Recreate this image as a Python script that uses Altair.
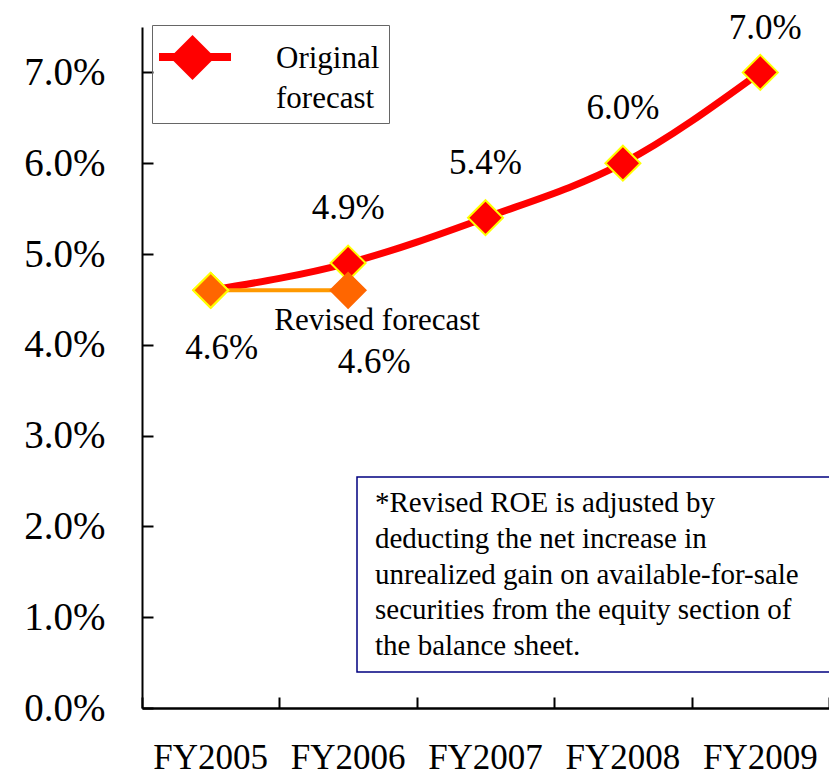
import altair as alt
import pandas as pd

# ROE forecast values (percent)
YEARS = ["FY2005", "FY2006", "FY2007", "FY2008", "FY2009"]
ORIGINAL_ROE = [4.6, 4.9, 5.4, 6.0, 7.0]
REVISED_YEARS = ["FY2005", "FY2006"]
REVISED_ROE = [4.6, 4.6]
Y_TICKS = [0, 1, 2, 3, 4, 5, 6, 7]

ORIGINAL_NAME = "Original forecast"
REVISED_NAME = "Revised forecast"
LEGEND_TITLE = ["Original", "forecast"]
NOTE_LINES = [
    "*Revised ROE is adjusted by",
    "deducting the net increase in",
    "unrealized gain on available-for-sale",
    "securities from the equity section of",
    "the balance sheet.",
]

FONT = "Liberation Serif"
RED = "#FF0000"
YELLOW = "#FFFF00"
ORANGE = "#FF6600"
ORANGE_LINE = "#FF9900"

W, H = 687, 681

rows = [{"year": y, "roe": v, "series": ORIGINAL_NAME, "key": ORIGINAL_NAME}
        for y, v in zip(YEARS, ORIGINAL_ROE)]
rows += [{"year": y, "roe": v, "series": REVISED_NAME, "key": REVISED_NAME}
         for y, v in zip(REVISED_YEARS, REVISED_ROE)]
df = pd.DataFrame(rows)

x_scale = alt.Scale(type="band", domain=YEARS, paddingInner=0, paddingOuter=0)
y_scale = alt.Scale(domain=[0, 7.5], nice=False, zero=True)

main_x_axis = alt.Axis(orient="bottom", title=None, ticks=False, grid=False,
                       domainColor="black", domainWidth=2.5, labelAngle=0,
                       labelFont=FONT, labelFontSize=35, labelColor="black",
                       labelPadding=32)
main_y_axis = alt.Axis(orient="left", title=None, ticks=False, grid=False,
                       values=Y_TICKS, domainColor="black", domainWidth=2,
                       labelExpr="format(datum.value, '.1f') + '%'",
                       labelFont=FONT, labelFontSize=39, labelColor="black",
                       labelPadding=37)
# inward-pointing tick marks, drawn by a second pair of axes folded onto the plot edges
tick_x_axis = alt.Axis(orient="top", offset=-H, title=None, labels=False,
                       domain=False, grid=False, tickBand="extent",
                       tickSize=11, tickWidth=2, tickColor="black")
tick_y_axis = alt.Axis(orient="right", offset=-W, title=None, labels=False,
                       domain=False, grid=False, values=Y_TICKS,
                       tickSize=11, tickWidth=2, tickColor="black")


def xy(x_axis=None, y_axis=None):
    return dict(
        x=alt.X("year:N", scale=x_scale, axis=x_axis, sort=YEARS),
        y=alt.Y("roe:Q", scale=y_scale, axis=y_axis),
    )


base = alt.Chart(df)
original = base.transform_filter(alt.datum.series == ORIGINAL_NAME)
revised = base.transform_filter(alt.datum.series == REVISED_NAME)

line_legend = alt.Legend(orient="none", legendX=13, legendY=-10, title=None,
                         labelExpr="''", symbolType="stroke", symbolSize=5184,
                         symbolStrokeWidth=8, padding=0, symbolOffset=0,
                         labelOffset=0)
marker_legend = alt.Legend(orient="none", legendX=10, legendY=-2,
                           title=LEGEND_TITLE, titleOrient="right",
                           titleFont=FONT, titleFontSize=31,
                           titleFontWeight="normal", titleColor="black",
                           titleLineHeight=40, titleAlign="left",
                           titleBaseline="line-top", titlePadding=57,
                           labelExpr="''", labelOffset=0, symbolSize=2025,
                           symbolType="diamond",
                           symbolFillColor=RED, symbolStrokeColor=YELLOW,
                           symbolStrokeWidth=2, symbolOffset=8, padding=9,
                           strokeColor="#666666")

red_line = original.mark_line(strokeWidth=7, interpolate="monotone").encode(
    **xy(main_x_axis, main_y_axis),
    color=alt.Color("series:N", scale=alt.Scale(range=[RED]), legend=line_legend),
)

revised_line = revised.mark_line(color=ORANGE_LINE, strokeWidth=4).encode(**xy())

red_points = original.mark_point(size=1225, filled=True, opacity=1,
                                 strokeWidth=2).encode(
    **xy(tick_x_axis, tick_y_axis),
    shape=alt.Shape("key:N", scale=alt.Scale(range=["diamond"]),
                    legend=marker_legend),
    fill=alt.value(RED),
    stroke=alt.value(YELLOW),
)

revised_points = revised.mark_point(shape="diamond", size=1225, filled=True,
                                    opacity=1, strokeWidth=2).encode(
    **xy(),
    fill=alt.value(ORANGE),
    stroke=alt.condition(alt.datum.year == REVISED_YEARS[0],
                         alt.value(YELLOW), alt.value(ORANGE)),
)

label_text = alt.Text("label:N")
fmt = "format(datum.roe, '.1f') + '%'"
text_style = dict(font=FONT, fontSize=35, color="black", baseline="middle",
                  align="center")

mid_labels = original.transform_filter(
    alt.FieldOneOfPredicate(field="year", oneOf=YEARS[1:-1])
).transform_calculate(label=fmt).mark_text(dy=-55, **text_style).encode(
    **xy(), text=label_text)

top_label = original.transform_filter(
    alt.datum.year == YEARS[-1]
).transform_calculate(label=fmt).mark_text(dy=-44, dx=5, **text_style).encode(
    **xy(), text=label_text)

rev_label_first = revised.transform_filter(
    alt.datum.year == REVISED_YEARS[0]
).transform_calculate(label=fmt).mark_text(dy=58, dx=11, **text_style).encode(
    **xy(), text=label_text)

rev_label_last = revised.transform_filter(
    alt.datum.year == REVISED_YEARS[-1]
).transform_calculate(label=fmt).mark_text(dy=72, dx=26, **text_style).encode(
    **xy(), text=label_text)

rev_name = revised.transform_filter(
    alt.datum.year == REVISED_YEARS[-1]
).mark_text(dy=31, dx=29, font=FONT, fontSize=31, color="black",
            baseline="middle", align="center").encode(
    **xy(), text="series:N")

# footnote box in the lower right of the plot
note_data = alt.Data(values=[{"note": 1}])
note_box = alt.Chart(note_data).mark_rect(
    fill="white", stroke="#000080", strokeWidth=1.5
).encode(x=alt.value(215), x2=alt.value(720), y=alt.value(450), y2=alt.value(645))
note_text = alt.Chart(note_data).mark_text(
    align="left", baseline="alphabetic", font=FONT, fontSize=29,
    lineHeight=35.75, color="black"
).encode(x=alt.value(233), y=alt.value(485), text=alt.value(NOTE_LINES))

chart = alt.layer(
    red_line, revised_line, red_points, revised_points,
    mid_labels, top_label, rev_label_first, rev_label_last, rev_name,
    note_box, note_text,
).resolve_axis(
    x="independent", y="independent"
).properties(
    width=W, height=H,
    padding={"left": 142, "top": 27, "right": 0, "bottom": 68},
    autosize=alt.AutoSizeParams(type="none"),
).configure_view(stroke=None)

chart.save("out.html", embed_options={"renderer": "svg", "actions": False})
